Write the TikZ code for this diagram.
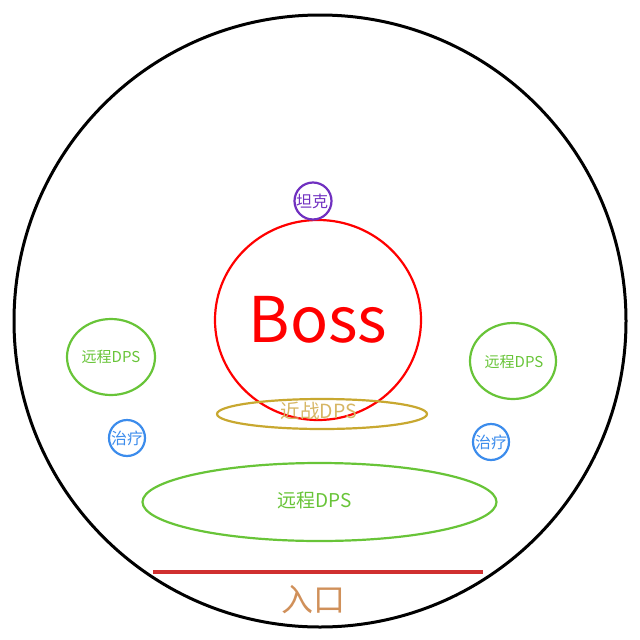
\documentclass[tikz,border=0pt]{standalone}
\usepackage{fontspec}
\setmainfont{Noto Sans CJK SC}
\definecolor{cgreen}{RGB}{104,196,56}
\definecolor{cblue}{RGB}{60,140,236}
\definecolor{cpurple}{RGB}{112,48,192}
\definecolor{cgold}{RGB}{200,168,48}
\definecolor{cgoldtext}{RGB}{214,182,100}
\definecolor{cline}{RGB}{208,48,48}
\definecolor{centry}{RGB}{208,144,90}
\tikzset{
  smalltxt/.style={font=\fontsize{15}{15}\selectfont},
  roletxt/.style={font=\fontsize{16}{16}\selectfont},
}
\begin{document}
\begin{tikzpicture}[x=1pt,y=-1pt]
\useasboundingbox (0,0) rectangle (640,640);
% arena
\draw[line width=3pt] (320,321) circle (306);
% boss
\draw[red, line width=2.2pt] (318,320) ellipse (103 and 100);
\node[text=red, font=\fontsize{63}{63}\selectfont] (boss) at (318,320) {Boss};
% tank
\draw[cpurple, line width=2.2pt] (313,201) circle (18.5);
\node[text=cpurple, roletxt] (tank) at (312,201) {坦克};
% melee
\draw[cgold, line width=2.2pt] (322,414) ellipse (105 and 15);
\node[text=cgoldtext, font=\fontsize{19.5}{19.5}\selectfont] (melee) at (319,411) {近战DPS};
% ranged left/right
\draw[cgreen, line width=2.2pt] (111,357) ellipse (44 and 38);
\node[text=cgreen, smalltxt] (rl) at (111,357) {远程DPS};
\draw[cgreen, line width=2.2pt] (513,361) ellipse (43 and 38);
\node[text=cgreen, smalltxt] (rr) at (514,362) {远程DPS};
% healers
\draw[cblue, line width=2.2pt] (127,438) circle (18);
\node[text=cblue, roletxt] (hl) at (127,438) {治疗};
\draw[cblue, line width=2.2pt] (491,442) circle (18);
\node[text=cblue, roletxt] (hr) at (491,442) {治疗};
% ranged bottom
\draw[cgreen, line width=2.2pt] (319.5,502) ellipse (177 and 39);
\node[text=cgreen, font=\fontsize{19}{19}\selectfont] (rb) at (315,500) {远程DPS};
% entrance
\coordinate (ea) at (153,572);
\coordinate (eb) at (483,572);
\draw[cline, line width=3.5pt] (ea) -- (eb);
\node[text=centry, font=\fontsize{32}{32}\selectfont] (entry) at (313,600) {入口};
\end{tikzpicture}
\end{document}
